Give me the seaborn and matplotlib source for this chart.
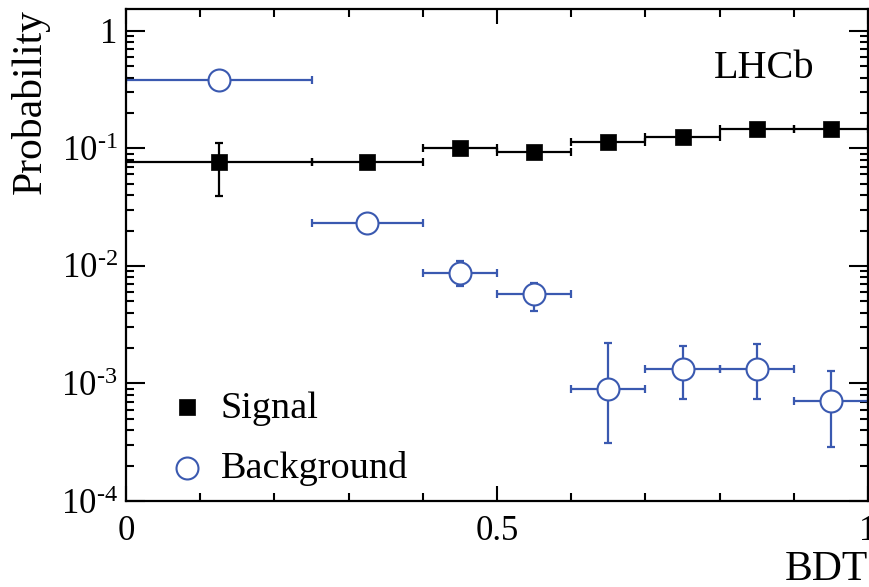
import numpy as np
import pandas as pd
import seaborn as sns
import matplotlib
matplotlib.use("Agg")
import matplotlib.pyplot as plt
from matplotlib.ticker import FixedLocator, FixedFormatter, LogLocator, NullFormatter

# BDT bin edges
bin_edges = [0.0, 0.25, 0.4, 0.5, 0.6, 0.7, 0.8, 0.9, 1.0]

# Signal probabilities and errors
sig_prob = [0.076, 0.077, 0.100, 0.094, 0.114, 0.125, 0.146, 0.146]
sig_err_lo = [0.037, 0.004, 0.005, 0.005, 0.005, 0.005, 0.006, 0.006]
sig_err_hi = [0.035, 0.004, 0.005, 0.005, 0.005, 0.005, 0.006, 0.006]

# Background probabilities and errors
bkg_prob = [0.383, 0.0232, 0.0087, 0.0058, 0.00090, 0.00133, 0.00133, 0.00071]
bkg_err_lo = [0.01, 0.0008, 0.0019, 0.0017, 0.00059, 0.00059, 0.00059, 0.00042]
bkg_err_hi = [0.01, 0.0008, 0.0023, 0.0014, 0.00131, 0.00076, 0.00083, 0.00057]

ytick_vals = [1e-4, 1e-3, 1e-2, 1e-1, 1]
ytick_labels = ["10$^{\u2010 4}$", "10$^{\u2010 3}$", "10$^{\u2010 2}$", "10$^{\u2010 1}$", "1"]
xtick_vals = [0, 0.5, 1]
xtick_labels = ["0", "0.5", "1"]

edges = np.array(bin_edges)
centers = (edges[:-1] + edges[1:]) / 2
halfw = (edges[1:] - edges[:-1]) / 2

sig = pd.DataFrame({"bdt": centers, "prob": sig_prob})
bkg = pd.DataFrame({"bdt": centers, "prob": bkg_prob})

sns.set_theme(style="ticks")
plt.rcParams['font.family'] = ['Liberation Serif', 'DejaVu Serif']
plt.rcParams['mathtext.fontset'] = 'custom'
plt.rcParams['mathtext.rm'] = 'Liberation Serif'
plt.rcParams['mathtext.it'] = 'Liberation Serif:italic'
plt.rcParams['mathtext.default'] = 'regular'
plt.rcParams['text.color'] = 'black'
plt.rcParams['axes.labelcolor'] = 'black'
plt.rcParams['xtick.color'] = 'black'
plt.rcParams['ytick.color'] = 'black'

blue = "#3a59b0"

fig = plt.figure(figsize=(8.69, 5.87), dpi=100)
ax = fig.add_axes([0.145, 0.1465, 0.854, 0.8385])

ax.errorbar(centers, sig_prob, xerr=halfw, yerr=[sig_err_lo, sig_err_hi],
            fmt='none', ecolor='black', elinewidth=1.6, capsize=3, capthick=1.6, zorder=2)
ax.errorbar(centers, bkg_prob, xerr=halfw, yerr=[bkg_err_lo, bkg_err_hi],
            fmt='none', ecolor=blue, elinewidth=1.6, capsize=3, capthick=1.6, zorder=2)

sns.scatterplot(data=sig, x="bdt", y="prob", marker="s", s=120, color="black",
                edgecolor="black", linewidth=0.5, label="Signal", zorder=4, ax=ax)
sns.scatterplot(data=bkg, x="bdt", y="prob", marker="o", s=250, facecolor="white",
                edgecolor=blue, linewidth=1.5, label="Background", zorder=4, ax=ax)

ax.set_yscale("log")
ax.set_xlim(0, 1)
ax.set_ylim(1e-4, 1.54)

ax.xaxis.set_major_locator(FixedLocator(xtick_vals))
ax.xaxis.set_major_formatter(FixedFormatter(xtick_labels))
ax.xaxis.set_minor_locator(FixedLocator(np.arange(0, 1.01, 0.1)))
ax.yaxis.set_major_locator(FixedLocator(ytick_vals))
ax.yaxis.set_major_formatter(FixedFormatter(ytick_labels))
ax.yaxis.set_minor_locator(LogLocator(base=10, subs=np.arange(2, 10)))
ax.yaxis.set_minor_formatter(NullFormatter())

ax.tick_params(which="both", direction="in", top=True, right=True, width=1.5,
               colors="black", labelsize=25)
ax.tick_params(axis="y", which="major", length=14, pad=6)
ax.tick_params(axis="y", which="minor", length=6)
ax.tick_params(axis="x", which="major", length=11, pad=10)
ax.tick_params(axis="x", which="minor", length=5.5)
for sp in ax.spines.values():
    sp.set_linewidth(1.6)
    sp.set_color("black")

ax.set_xlabel("BDT", fontsize=30, loc="right")
ax.set_ylabel("Probability", fontsize=30, loc="top")
ax.xaxis.set_label_coords(1.0, -0.10)
ax.yaxis.set_label_coords(-0.103, 1.0)

ax.text(0.792, 0.86, "LHCb", transform=ax.transAxes, fontsize=29)

leg = ax.legend(loc="lower left", bbox_to_anchor=(0.036, 0.0), frameon=False,
                fontsize=27.5, handlelength=1.0, handletextpad=0.38, labelspacing=0.66,
                borderaxespad=0)

fig.savefig("out.png", dpi=100)
